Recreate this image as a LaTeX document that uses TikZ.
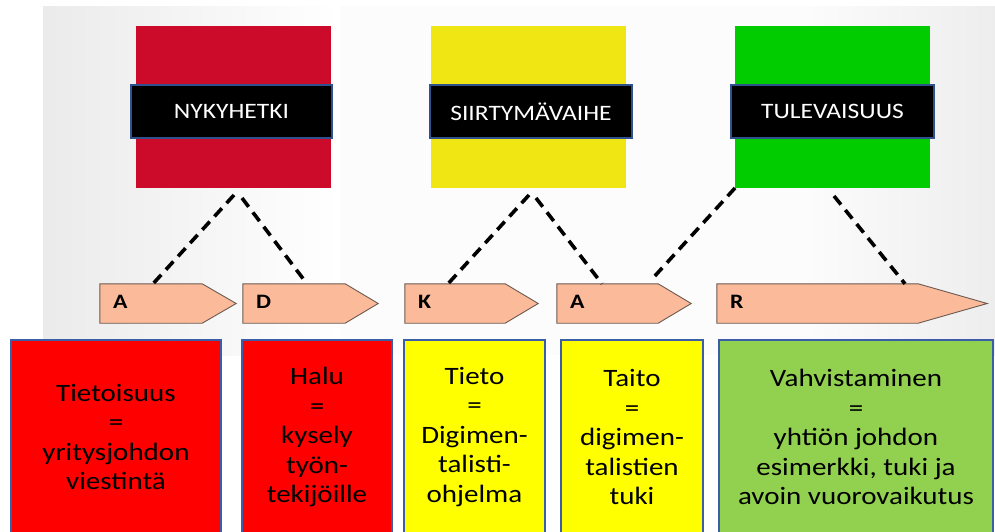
\documentclass[tikz,border=0pt]{standalone}
\usepackage{fontspec}
\setmainfont{Carlito}[FakeStretch=1.16]
\definecolor{nowred}{HTML}{CC0A2A}
\definecolor{midyellow}{HTML}{F0E614}
\definecolor{futgreen}{HTML}{00CC00}
\definecolor{labelblue}{HTML}{2F528F}
\definecolor{tagfill}{HTML}{FBBA9A}
\definecolor{tagline}{HTML}{6B5A50}
\definecolor{boxred}{HTML}{FF0000}
\definecolor{boxyellow}{HTML}{FFFF00}
\definecolor{boxgreen}{HTML}{92D050}
\definecolor{boxblue}{HTML}{3A5FA8}
\tikzset{
  phasebox/.style={draw=none, minimum width=195pt, minimum height=162pt, inner sep=0pt},
  phaselabel/.style={fill=black, draw=labelblue, line width=1.6pt, minimum height=53pt,
    inner sep=0pt, text=white, font=\fontsize{22}{25}\selectfont},
  tagframe/.style={minimum height=39pt, inner sep=0pt},
  tagshape/.style={fill=tagfill, draw=tagline, line width=0.9pt},
  tagletter/.style={font=\bfseries\fontsize{20.5}{23}\selectfont, anchor=west, inner sep=0pt},
  linkline/.style={line width=3.6pt, dash pattern=on 11pt off 7pt},
  infobox/.style={draw=boxblue, line width=1.6pt, minimum height=194pt, inner sep=0pt,
    align=center, font=\fontsize{25}{29.5}\selectfont}
}
\begin{document}
\begin{tikzpicture}[x=1pt,y=-1pt]
\useasboundingbox (0,0) rectangle (995,531);
% soft grey backdrop
\fill[white] (0,0) rectangle (995,531);
\shade[left color=gray!16, right color=white] (43,6) rectangle (340,355);
\fill[white!98!gray] (340,6) rectangle (800,355);
\shade[left color=white!98!gray, right color=gray!14] (800,6) rectangle (995,355);

% phase blocks
\node[phasebox, fill=nowred] (now) at (233.5,107) {};
\node[phasebox, fill=midyellow] (mid) at (528.5,107) {};
\node[phasebox, fill=futgreen] (fut) at (832.5,107) {};
\node[phaselabel, minimum width=201pt] (nowlab) at (231.5,111.5) {NYKYHETKI};
\node[phaselabel, minimum width=202pt] (midlab) at (531,111.5) {SIIRTYMÄVAIHE};
\node[phaselabel, minimum width=203pt] (futlab) at (832.5,111.5) {TULEVAISUUS};

% step tags
\node[tagframe, minimum width=136pt] (tA) at (168,303.5) {};
\node[tagframe, minimum width=135pt] (tD) at (310.5,303.5) {};
\node[tagframe, minimum width=133pt] (tK) at (471.5,303.5) {};
\node[tagframe, minimum width=134pt] (tA2) at (624,303.5) {};
\node[tagframe, minimum width=270pt] (tR) at (852,303.5) {};
\foreach \t/\p in {tA/34, tD/33, tK/33, tA2/33, tR/69}{
  \draw[tagshape] (\t.north west) -- ([xshift=-\p pt]\t.north east) -- (\t.east)
    -- ([xshift=-\p pt]\t.south east) -- (\t.south west) -- cycle;
}
\node[tagletter] (lA) at ([xshift=13pt,yshift=1.5pt]tA.west) {A};
\node[tagletter] (lD) at ([xshift=13pt,yshift=1.5pt]tD.west) {D};
\node[tagletter] (lK) at ([xshift=13pt,yshift=1.5pt]tK.west) {K};
\node[tagletter] (lA2) at ([xshift=13pt,yshift=1.5pt]tA2.west) {A};
\node[tagletter] (lR) at ([xshift=13pt,yshift=1.5pt]tR.west) {R};

% dashed links from the phases to the steps
\coordinate (n1) at (234,195);
\coordinate (n2) at (242,198);
\coordinate (m1) at (529,195);
\coordinate (m2) at (536,198);
\coordinate (f1) at (735,188);
\coordinate (f2) at (834,196);
\coordinate (f1end) at (653,278);
\draw[linkline] (n1) -- ([xshift=-15pt]tA.north);
\draw[linkline] (n2) -- ([xshift=-3.5pt]tD.north);
\draw[linkline] (m1) -- ([xshift=-23.5pt]tK.north);
\draw[linkline] (m2) -- ([xshift=-22pt]tA2.north);
\draw[linkline] (f1) -- (f1end);
\draw[linkline] (f2) -- ([xshift=53pt]tR.north);

% descriptions
\node[infobox, fill=boxred, minimum width=210pt] (bA) at (116,437) {Tietoisuus\\=\\yritysjohdon\\viestintä};
\node[infobox, fill=boxred, minimum width=150pt] (bD) at (317,437) {Halu\\=\\kysely\\työn-\\tekijöille};
\node[infobox, fill=boxyellow, minimum width=141pt] (bK) at (474.5,437) {Tieto\\=\\Digimen-\\talisti-\\ohjelma};
\node[infobox, fill=boxyellow, minimum width=142pt] (bA2) at (632,437) {Taito\\=\\digimen-\\talistien\\tuki};
\node[infobox, fill=boxgreen, minimum width=274pt] (bR) at (856,437) {Vahvistaminen\\=\\yhtiön johdon\\esimerkki, tuki ja\\avoin vuorovaikutus};
\end{tikzpicture}
\end{document}
